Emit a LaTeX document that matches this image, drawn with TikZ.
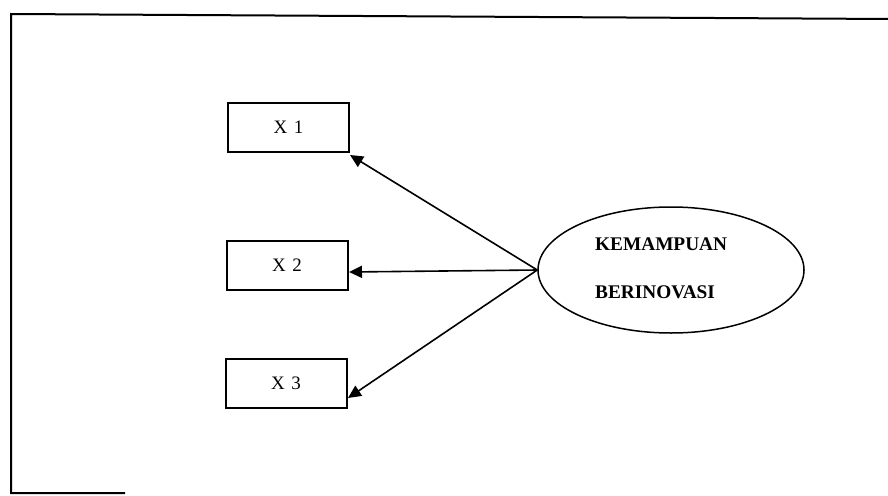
\documentclass[tikz,border=0pt]{standalone}
\usepackage{fontspec}
\setmainfont{Liberation Serif}
\usetikzlibrary{arrows.meta,shapes.geometric}
\begin{document}
\begin{tikzpicture}[x=1pt,y=-1pt,
  obsbox/.style={draw,line width=2pt,minimum width=121pt,minimum height=49pt,inner sep=0pt,font=\fontsize{19}{19}\selectfont},
  latent/.style={draw,ellipse,line width=1.5pt,minimum width=266pt,minimum height=126pt,inner sep=0pt},
  lbl/.style={anchor=base west,inner sep=0pt,font=\fontsize{19.3}{19.3}\selectfont\bfseries},
  conn/.style={line width=1.6pt,-{Triangle[length=13pt,width=12pt]}},
  frameline/.style={line width=2pt}]
\useasboundingbox (0,0) rectangle (888,495);
\draw[frameline] (890,19) -- (11,14) -- (11,493) -- (125,493);
\node[obsbox] (x1) at (288.5,127.5) {X\,\,1};
\node[obsbox] (x2) at (287,265.5) {X\,\,2};
\node[obsbox] (x3) at (286,383.5) {X\,\,3};
\node[latent] (lv) at (671,270) {};
\node[lbl] (t1) at (595,250) {KEMAMPUAN};
\node[lbl] (t2) at (595,298) {BERINOVASI};
\coordinate (p1) at (350,155);
\coordinate (p2) at (349,272);
\coordinate (p3) at (348,398);
\draw[conn] (lv.west) -- (p1);
\draw[conn] (lv.west) -- (p2);
\draw[conn] (lv.west) -- (p3);
\end{tikzpicture}
\end{document}
